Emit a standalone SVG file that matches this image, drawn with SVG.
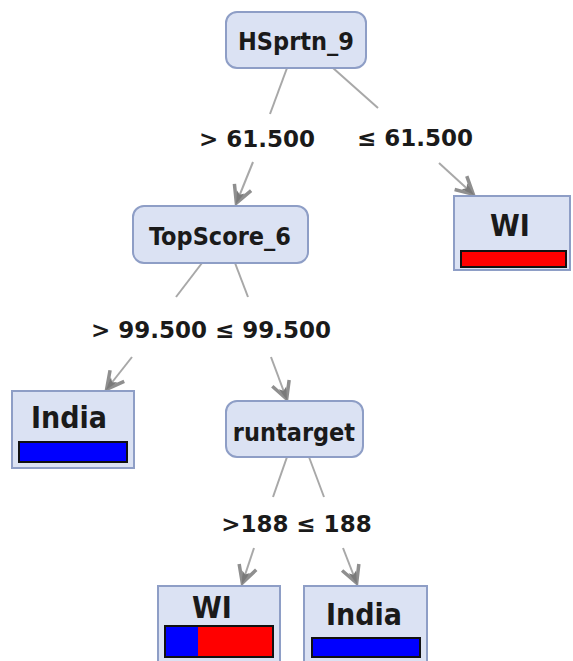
<svg xmlns="http://www.w3.org/2000/svg" width="573" height="661" viewBox="0 0 573 661">
<style>
.node{fill:#dbe2f3;stroke:#8e9ec6;stroke-width:2}
.leaf{fill:#dbe2f3;stroke:#8e9ec6;stroke-width:2}
.nt{font-family:"DejaVu Sans Condensed","DejaVu Sans",sans-serif;font-stretch:condensed;font-weight:bold;font-size:25px;fill:#1a1a1a;text-anchor:middle}
.lt{font-family:"DejaVu Sans Condensed","DejaVu Sans",sans-serif;font-stretch:condensed;font-weight:bold;font-size:30px;fill:#1a1a1a;text-anchor:middle}
.el{font-family:"DejaVu Sans",sans-serif;font-weight:bold;font-size:23px;fill:#1a1a1a;text-anchor:middle}
.edge{stroke:#a8a8a8;stroke-width:2;fill:none}
.bar{stroke:#111;stroke-width:2}
</style>
<defs>
<marker id="arr" viewBox="-22 -12 24 24" refX="0" refY="0" markerWidth="24" markerHeight="24" markerUnits="userSpaceOnUse" orient="auto">
<path d="M-18,-9 L-1,0 L-18,9" fill="none" stroke="#8f8f8f" stroke-width="3.5" stroke-linejoin="miter"/>
<path d="M0,0 L-13,-4 L-10,0 L-13,4 Z" fill="#7a7a7a"/>
</marker>
</defs>
<g id="connectors">
<line class="edge" x1="287" y1="68" x2="270" y2="114"/>
<line class="edge" x1="253" y1="162" x2="236" y2="204" marker-end="url(#arr)"/>
<line class="edge" x1="333" y1="68" x2="378" y2="108" stroke="#c4c4c4"/>
<line class="edge" x1="439" y1="163" x2="474" y2="195" marker-end="url(#arr)"/>
<line class="edge" x1="202" y1="263" x2="176" y2="297"/>
<line class="edge" x1="132" y1="357" x2="106" y2="390" marker-end="url(#arr)"/>
<line class="edge" x1="235" y1="263" x2="248" y2="297"/>
<line class="edge" x1="271" y1="357" x2="287" y2="400" marker-end="url(#arr)"/>
<line class="edge" x1="287" y1="457" x2="273" y2="497"/>
<line class="edge" x1="254" y1="548" x2="242" y2="584" marker-end="url(#arr)"/>
<line class="edge" x1="309" y1="457" x2="324" y2="497"/>
<line class="edge" x1="343" y1="548" x2="357" y2="584" marker-end="url(#arr)"/>
<text class="el" x="257" y="147">&gt; 61.500</text>
<text class="el" x="415" y="146">≤ 61.500</text>
<text class="el" x="149" y="338">&gt; 99.500</text>
<text class="el" x="273" y="338">≤ 99.500</text>
<text class="el" x="255" y="532">&gt;188</text>
<text class="el" x="334" y="532">≤ 188</text>
</g>
<g id="n_HSprtn_9">
<rect class="node" x="226" y="12" width="140" height="56" rx="11"/>
<text class="nt" x="296" y="50">HSprtn_9</text>
</g>
<g id="leaf_WI_top">
<rect class="leaf" x="454" y="196" width="116" height="74"/>
<text class="lt" x="510" y="236">WI</text>
<rect class="bar" x="461" y="251" width="105" height="16" fill="#ff0000"/>
</g>
<g id="n_TopScore_6">
<rect class="node" x="133" y="206" width="175" height="57" rx="11"/>
<text class="nt" x="220" y="245">TopScore_6</text>
</g>
<g id="leaf_India_left">
<rect class="leaf" x="12" y="391" width="122" height="77"/>
<text class="lt" x="69" y="428">India</text>
<rect class="bar" x="19" y="442" width="108" height="20" fill="#0000ff"/>
</g>
<g id="n_runtarget">
<rect class="node" x="226" y="401" width="137" height="56" rx="11"/>
<text class="nt" x="294" y="441">runtarget</text>
</g>
<g id="leaf_WI_bottom">
<rect class="leaf" x="158" y="586" width="122" height="76"/>
<text class="lt" x="212" y="618">WI</text>
<rect x="165" y="626" width="33" height="31" fill="#0000ff"/>
<rect x="198" y="626" width="75" height="31" fill="#ff0000"/>
<rect class="bar" x="165" y="626" width="108" height="31" fill="none"/>
</g>
<g id="leaf_India_bottom">
<rect class="leaf" x="304" y="586" width="123" height="76"/>
<text class="lt" x="364" y="625">India</text>
<rect class="bar" x="312" y="638" width="108" height="19" fill="#0000ff"/>
</g>
</svg>
